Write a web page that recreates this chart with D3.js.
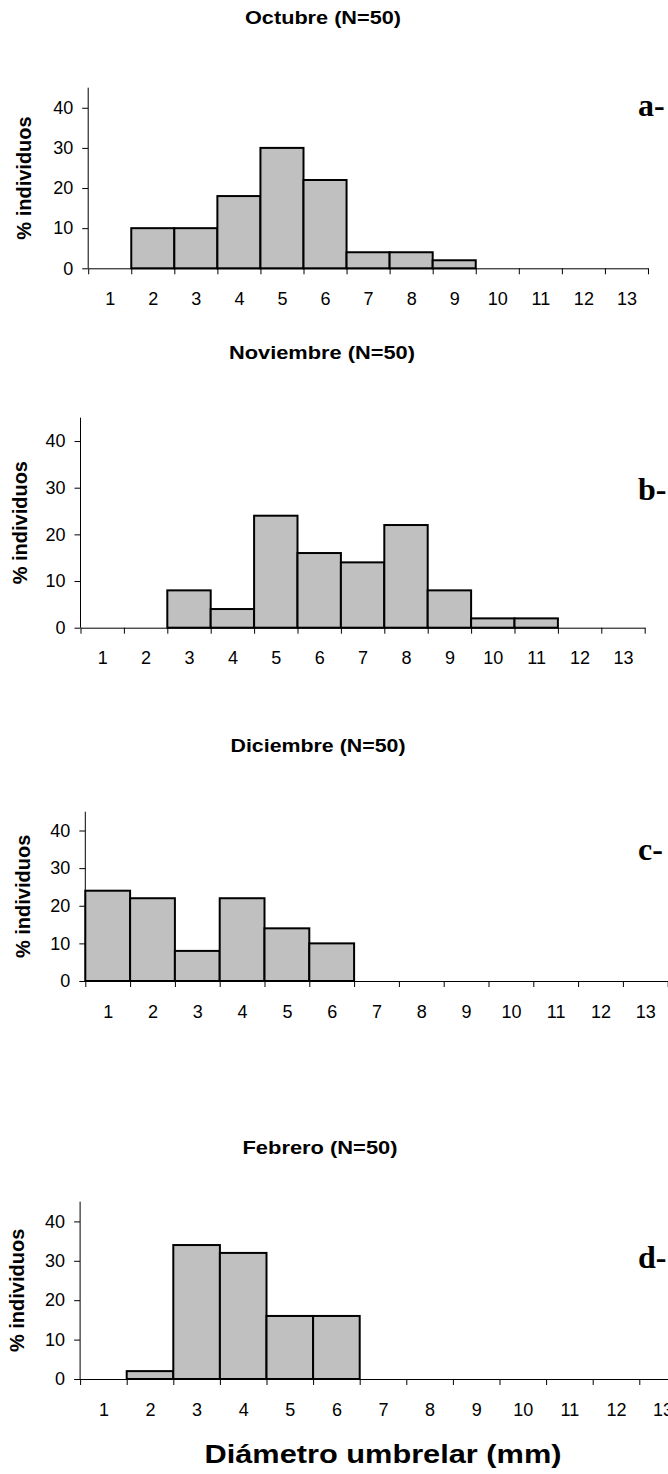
<!DOCTYPE html>
<html>
<head>
<meta charset="utf-8">
<script src="https://cdn.jsdelivr.net/npm/d3@7"></script>
<style>
  html, body { margin: 0; padding: 0; background: #fff; }
  svg { display: block; }
  text { font-family: "Liberation Sans", Arial, sans-serif; fill: #000; }
</style>
</head>
<body>
<svg id="chart" width="668" height="1474"></svg>
<script>
// Size classes of umbrellar diameter (mm)
const sizeClasses = [1, 2, 3, 4, 5, 6, 7, 8, 9, 10, 11, 12, 13];

// Percentage of individuals in each size class, per sampling month
const octubre   = [0, 10, 10, 18, 30, 22, 4, 4, 2, 0, 0, 0, 0];
const noviembre = [0, 0, 8, 4, 24, 16, 14, 22, 8, 2, 2, 0, 0];
const diciembre = [24, 22, 8, 22, 14, 10, 0, 0, 0, 0, 0, 0, 0];
const febrero   = [0, 2, 34, 32, 16, 16, 0, 0, 0, 0, 0, 0, 0];

const yTicks = [0, 10, 20, 30, 40];
const panelTitles = ["Octubre (N=50)", "Noviembre (N=50)", "Diciembre (N=50)", "Febrero (N=50)"];
const panelLetters = ["a-", "b-", "c-", "d-"];
const yTitle = "% individuos";
const xTitle = "Diámetro umbrelar (mm)";

const series = [octubre, noviembre, diciembre, febrero];

// Geometry of each panel: plot origin, class width, baseline and height of the y range
const panels = [
  { x0: 88.2, bw: 43.06, y0: 268.3, h: 180.6, titleX: 323, titleY: 23.5, titleW: 156, letterY: 116, yTitleX: 24 },
  { x0: 80.5, bw: 43.4,  y0: 627.7, h: 210.0, titleX: 322, titleY: 359,  titleW: 186, letterY: 500, yTitleX: 20 },
  { x0: 85.3, bw: 44.8,  y0: 981.0, h: 169.3, titleX: 318, titleY: 752,  titleW: 175, letterY: 860, yTitleX: 23 },
  { x0: 80.1, bw: 46.6,  y0: 1379,  h: 177.3, titleX: 320, titleY: 1154, titleW: 155, letterY: 1268, yTitleX: 17 }
];

const svg = d3.select("#chart");

panels.forEach((p, k) => {
  const values = series[k];
  const g = svg.append("g");

  // Linear x scale: class c occupies [c - 0.5, c + 0.5]
  const x = d3.scaleLinear()
    .domain([0.5, 13.5])
    .range([p.x0, p.x0 + 13 * p.bw]);
  const y = d3.scaleLinear()
    .domain([0, 45])
    .range([p.y0, p.y0 - p.h]);

  // Bars
  g.append("g")
    .selectAll("rect")
    .data(sizeClasses.map((c, i) => ({ c, v: values[i] })).filter(d => d.v > 0))
    .join("rect")
    .attr("x", d => x(d.c - 0.5))
    .attr("y", d => y(d.v))
    .attr("width", d => x(d.c + 0.5) - x(d.c - 0.5))
    .attr("height", d => y(0) - y(d.v))
    .attr("fill", "#c0c0c0")
    .attr("stroke", "#000")
    .attr("stroke-width", 2);

  // y axis
  const yAxis = d3.axisLeft(y)
    .tickValues(yTicks)
    .tickSize(6)
    .tickPadding(9)
    .tickFormat(d3.format("d"));
  const gy = g.append("g")
    .attr("transform", `translate(${p.x0},0)`)
    .call(yAxis);
  gy.select(".domain").attr("d", `M0,${y(45)}V${y(0)}`);
  gy.selectAll("text").attr("font-size", 18).attr("font-family", "Liberation Sans, Arial, sans-serif");

  // x axis: tick marks on class boundaries
  const boundaries = d3.range(0.5, 14, 1);
  const xAxis = d3.axisBottom(x)
    .tickValues(boundaries)
    .tickSize(6)
    .tickSizeOuter(0)
    .tickFormat("");
  g.append("g")
    .attr("transform", `translate(0,${p.y0})`)
    .call(xAxis);

  // x labels centred in each class
  const xLabels = d3.axisBottom(x)
    .tickValues(sizeClasses)
    .tickSize(0)
    .tickPadding(24)
    .tickFormat(d3.format("d"));
  const gl = g.append("g")
    .attr("transform", `translate(0,${p.y0})`)
    .call(xLabels);
  gl.select(".domain").remove();
  gl.selectAll("text").attr("font-size", 18).attr("font-family", "Liberation Sans, Arial, sans-serif");

  g.selectAll(".domain, .tick line").attr("stroke", "#000").attr("stroke-width", 1);

  // y axis title
  g.append("text")
    .attr("transform", `translate(${p.yTitleX},${(y(45) + y(0)) / 2}) rotate(-90)`)
    .attr("text-anchor", "middle")
    .attr("dominant-baseline", "central")
    .attr("font-size", 20)
    .attr("font-weight", "bold")
    .text(yTitle);

  // Panel title
  g.append("text")
    .attr("x", p.titleX)
    .attr("y", p.titleY)
    .attr("text-anchor", "middle")
    .attr("font-size", 19)
    .attr("font-weight", "bold")
    .attr("textLength", p.titleW)
    .attr("lengthAdjust", "spacingAndGlyphs")
    .text(panelTitles[k]);

  // Panel letter
  g.append("text")
    .attr("x", 638)
    .attr("y", p.letterY)
    .attr("font-family", "Liberation Serif, Times New Roman, serif")
    .style("font-family", "'Liberation Serif', 'Times New Roman', serif")
    .attr("font-size", 32)
    .attr("font-weight", "bold")
    .text(panelLetters[k]);
});

// Shared x axis title
svg.append("text")
  .attr("x", 383)
  .attr("y", 1463)
  .attr("text-anchor", "middle")
  .attr("font-size", 25)
  .attr("font-weight", "bold")
  .attr("textLength", 357)
  .attr("lengthAdjust", "spacingAndGlyphs")
  .text(xTitle);
</script>
</body>
</html>
